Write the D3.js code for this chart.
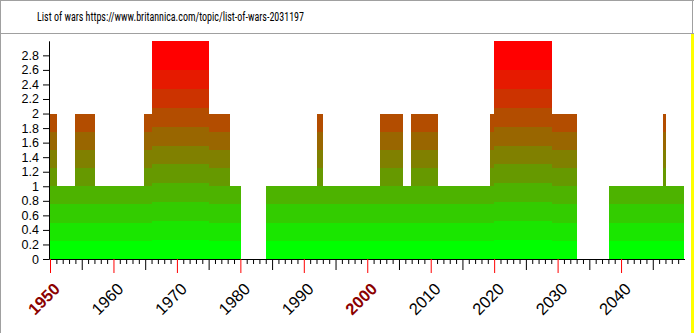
<!DOCTYPE html>
<html>
<head>
<meta charset="utf-8">
<script src="https://cdn.jsdelivr.net/npm/d3@7"></script>
<style>
  body { margin: 0; background: #fff; }
  svg { display: block; }
</style>
</head>
<body>
<svg id="chart" width="694" height="333"></svg>
<script>
// Chart title
const titleText = "List of wars https://www.britannica.com/topic/list-of-wars-2031197";

// Number of wars running at the same time: each period starts at the given
// (fractional) year and lasts until the next one starts.
const periodStarts = [1949.84, 1951.13, 1953.86, 1957.12, 1964.89, 1966.00, 1975.13,
                      1978.39, 1980.12, 1984.11, 1992.15, 1993.05, 2002.07, 2005.70,
                      2006.96, 2011.21, 2019.40, 2020.03, 2029.17, 2033.11, 2038.15,
                      2046.66, 2047.13];
const periodEnd = 2049.97;
const warCounts = [2, 1, 2, 1, 2, 3, 2, 1, 0, 1, 2, 1, 2, 1, 2, 1, 2, 3, 2, 0, 1, 2, 1];

// Axis ticks and labels
const yTicks = [0, 0.2, 0.4, 0.6, 0.8, 1, 1.2, 1.4, 1.6, 1.8, 2, 2.2, 2.4, 2.6, 2.8];
const yearTicks = d3.range(1950, 2050);
const decadeLabels = [1950, 1960, 1970, 1980, 1990, 2000, 2010, 2020, 2030, 2040];
const highlightedDecades = [1950, 2000];

const svg = d3.select("#chart");
const W = 694, H = 333;

// Frame and title strip
svg.append("rect").attr("x", 691).attr("y", 33).attr("width", 3).attr("height", H - 33)
  .attr("fill", "#ffff00");
const frame = svg.append("g").attr("stroke", "#a0a0a0").attr("stroke-width", 1)
  .attr("shape-rendering", "crispEdges");
frame.append("line").attr("x1", 0).attr("x2", W).attr("y1", 0.5).attr("y2", 0.5);
frame.append("line").attr("x1", 0).attr("x2", W).attr("y1", 33.5).attr("y2", 33.5);
frame.append("line").attr("x1", 0.5).attr("x2", 0.5).attr("y1", 0).attr("y2", H);
frame.append("line").attr("x1", 692.5).attr("x2", 692.5).attr("y1", 0).attr("y2", 33);

// Title
svg.append("text")
  .attr("x", 37).attr("y", 20.5)
  .attr("font-family", "'Liberation Sans Narrow', 'Roboto Condensed', Roboto, sans-serif")
  .attr("font-size", 13)
  .attr("textLength", 267)
  .attr("lengthAdjust", "spacingAndGlyphs")
  .attr("fill", "#000")
  .text(titleText);

// Scales
const x = d3.scaleLinear().domain([1949.84, 2050.0]).range([49, 684.5]);
const y = d3.scaleLinear().domain([0, 3]).range([259, 40.8]);

// Banded fill: each column is split into horizontal bands going from green to red
const bandColor = d3.interpolateRgb("#00ff00", "#ff0000");
const periods = periodStarts.map((s, i) => ({
  start: s,
  end: i + 1 < periodStarts.length ? periodStarts[i + 1] : periodEnd,
  value: warCounts[i]
}));

const bands = [];
periods.forEach(p => {
  if (p.value <= 0) return;
  const step = p.value >= 3 ? 0.26 : 0.25;
  const n = p.value >= 3 ? 11 : Math.round(p.value / step);
  for (let k = 0; k < n; k++) {
    bands.push({
      start: p.start, end: p.end,
      lo: k * step,
      hi: k === n - 1 ? p.value : (k + 1) * step,
      color: bandColor(Math.min(k / 10, 1))
    });
  }
});

svg.append("g").attr("shape-rendering", "crispEdges")
  .selectAll("rect").data(bands).join("rect")
  .attr("x", d => x(d.start))
  .attr("width", d => x(d.end) - x(d.start))
  .attr("y", d => y(d.hi))
  .attr("height", d => y(d.lo) - y(d.hi))
  .attr("fill", d => d.color);

// Y axis
const yAxis = svg.append("g").attr("transform", `translate(${x(1949.84)},0)`)
  .call(d3.axisLeft(y).tickValues(yTicks).tickSize(6).tickSizeOuter(0).tickPadding(4)
    .tickFormat(d => String(d)));
yAxis.select(".domain").attr("stroke", "#000");
yAxis.selectAll(".tick line").attr("stroke", "#000");
yAxis.selectAll(".tick text")
  .attr("font-family", "Arial, 'Liberation Sans', sans-serif")
  .attr("font-size", 12.5)
  .attr("fill", "#000");

// X axis: yearly minor ticks, longer ticks every 5 years, red ticks every decade
const xAxis = svg.append("g").attr("transform", `translate(0,${y(0)})`)
  .call(d3.axisBottom(x).tickValues(yearTicks).tickSize(5).tickSizeOuter(0).tickFormat(""));
xAxis.select(".domain").attr("stroke", "#000");
xAxis.selectAll(".tick line")
  .attr("stroke", d => d % 10 === 0 ? "#ff0000" : "#000")
  .attr("y2", d => d % 10 === 0 ? 14 : d % 5 === 0 ? 11 : 5);

// Decade labels, rotated
svg.append("g").selectAll("text").data(decadeLabels).join("text")
  .attr("transform", d => `translate(${x(d) + 11},${y(0) + 31}) rotate(-45)`)
  .attr("text-anchor", "end")
  .attr("font-family", "Arial, 'Liberation Sans', sans-serif")
  .attr("font-size", 16.5)
  .attr("font-weight", d => highlightedDecades.includes(d) ? "bold" : "normal")
  .attr("fill", d => highlightedDecades.includes(d) ? "#8b0000" : "#000")
  .text(d => d);
</script>
</body>
</html>
